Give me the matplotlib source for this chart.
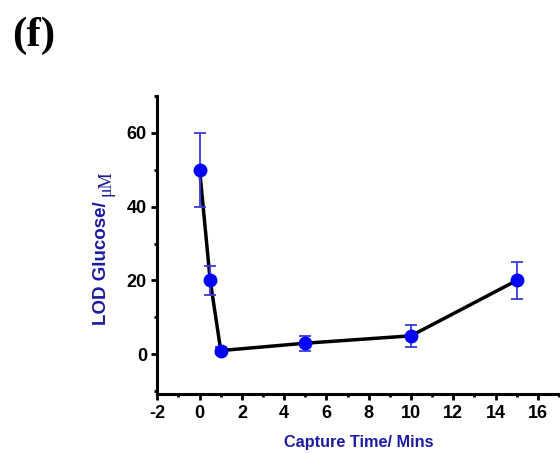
import matplotlib.pyplot as plt
from matplotlib.ticker import MultipleLocator
from matplotlib.transforms import IdentityTransform

plt.rcParams['axes.unicode_minus'] = False

# capture time (min) vs LOD glucose (uM)
capture_time = [0, 0.5, 1, 5, 10, 15]
lod_glucose = [50, 20, 1, 3, 5, 20]
lod_err = [10, 4, 1, 2, 3, 5]

fig = plt.figure(figsize=(5.6, 4.53), dpi=100)
ax = fig.add_axes([0.281, 0.13, 0.719, 0.658])

ax.plot(capture_time, lod_glucose, color='black', lw=2.5, zorder=2)
ax.errorbar(capture_time, lod_glucose, yerr=lod_err, fmt='none', ecolor='#3a3ae0',
            elinewidth=1.3, capsize=4, capthick=1.3, zorder=3)
ax.plot(capture_time, lod_glucose, 'o', color='#0000ff', ms=9, zorder=4)

ax.set_xlim(-2, 17.05)
ax.set_ylim(-10.8, 70)
ax.xaxis.set_major_locator(MultipleLocator(2))
ax.xaxis.set_minor_locator(MultipleLocator(1))
ax.yaxis.set_major_locator(MultipleLocator(20))
ax.yaxis.set_minor_locator(MultipleLocator(10))

for s in ['top', 'right']:
    ax.spines[s].set_visible(False)
for s in ['left', 'bottom']:
    ax.spines[s].set_linewidth(2.2)
ax.tick_params(which='major', direction='out', length=4.5, width=2, pad=3)
ax.tick_params(which='minor', direction='out', length=2.5, width=2)

for lab in ax.get_xticklabels() + ax.get_yticklabels():
    lab.set_fontfamily('Liberation Sans')
    lab.set_fontweight('bold')
    lab.set_fontsize(13)

ax.set_xlabel('Capture Time/ Mins', fontfamily='Liberation Sans', fontweight='bold',
              fontsize=11.7, color='#1c1ca0', labelpad=10)

# y label: bold sans part followed by serif unit
t1 = fig.text(106 / 560, 1 - 325 / 453, 'LOD Glucose/ ', rotation=90, rotation_mode='anchor',
              ha='left', va='baseline', fontfamily='Liberation Sans', fontweight='bold',
              fontsize=13.5, color='#1c1ca0')
fig.canvas.draw()
bb = t1.get_window_extent()
fig.text(bb.x1, bb.y1, '\u03bcM', rotation=90, rotation_mode='anchor', ha='left',
         va='baseline', fontfamily='Liberation Serif', fontsize=13, color='#1c1ca0',
         transform=IdentityTransform())

fig.text(12 / 560, 1 - 46 / 453, '(f)', fontfamily='Liberation Serif', fontweight='bold',
         fontsize=31, ha='left', va='baseline')

fig.savefig('out.png', dpi=100)
